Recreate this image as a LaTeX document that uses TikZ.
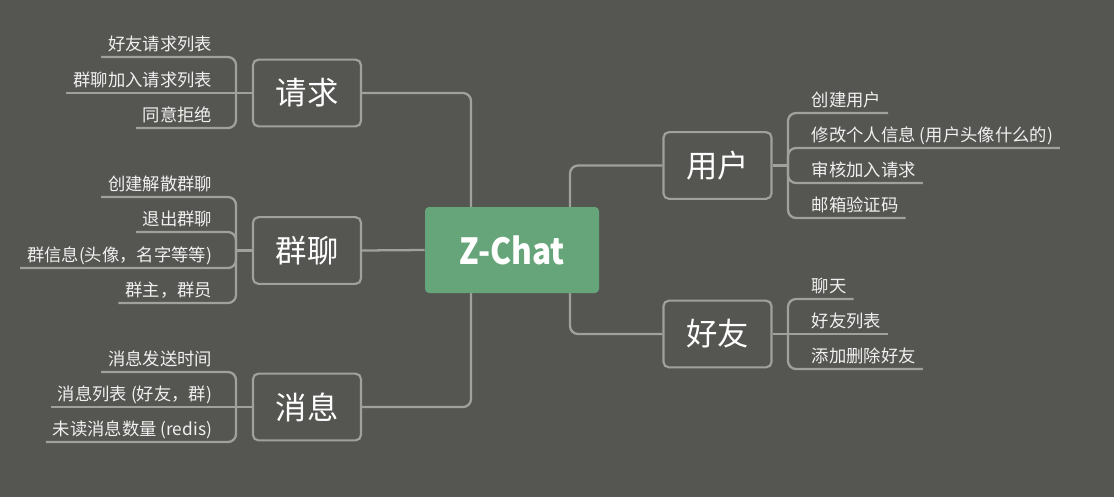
\documentclass[tikz,border=0pt]{standalone}
\usepackage{fontspec}
\setmainfont{Noto Sans CJK SC}
\usetikzlibrary{backgrounds}
\definecolor{bgc}{RGB}{85,86,82}
\definecolor{linec}{RGB}{160,160,157}
\definecolor{greenc}{RGB}{102,165,122}
\definecolor{txtc}{RGB}{240,240,240}
\tikzset{
  conn/.style={draw=linec, line width=1.7pt, rounded corners=6pt},
  topic/.style={draw=linec, line width=1.6pt, rounded corners=4pt, fill=bgc,
    minimum width=81pt, minimum height=50pt, inner sep=0pt,
    font=\fontsize{23.5pt}{27pt}\selectfont, text=white},
  root/.style={fill=greenc, rounded corners=3pt, minimum width=130.5pt,
    minimum height=64.5pt, inner sep=0pt,
    font=\fontsize{27pt}{30pt}\selectfont\bfseries, text=white},
  leaf/.style={inner xsep=5pt, inner ysep=0pt, text height=10pt, text depth=4.5pt,
    font=\fontsize{13pt}{15pt}\selectfont, text=txtc},
  leafL/.style={leaf, anchor=south east},
  leafR/.style={leaf, anchor=south west},
}
\begin{document}
\begin{tikzpicture}[x=0.75pt,y=-0.75pt]
\useasboundingbox (0,0) rectangle (1114,497);
% main nodes
\node[root] (root) at (512,250) {\scalebox{0.88}[1]{Z-Chat}};
\node[topic] (req) at (307,93) {请求};
\node[topic] (grp) at (307,250.5) {群聊};
\node[topic] (msg) at (307,407) {消息};
\node[topic] (user) at (717.5,165.5) {用户};
\node[topic] (friend) at (717.5,334) {好友};
% fork coordinates
\coordinate (lfork) at (236,0);
\coordinate (rfork) at (788,0);
\coordinate (ltrunk) at (471,250);
\coordinate (rtrunk) at (570,250);
% left leaves
\node[leafL] (r1) at (219,57) {好友请求列表};
\node[leafL] (r2) at (219,93) {群聊加入请求列表};
\node[leafL] (r3) at (219,128) {同意拒绝};
\node[leafL] (g1) at (219,197) {创建解散群聊};
\node[leafL] (g2) at (219,232) {退出群聊};
\node[leafL] (g3) at (219,268) {群信息(头像，名字等等)};
\node[leafL] (g4) at (219,303) {群主，群员};
\node[leafL] (m1) at (219,372) {消息发送时间};
\node[leafL] (m2) at (219,407) {消息列表 (好友，群)};
\node[leafL] (m3) at (219,442) {未读消息数量 (redis)};
% right leaves
\node[leafR] (u1) at (805,113) {创建用户};
\node[leafR] (u2) at (805,148) {修改个人信息 (用户头像什么的)};
\node[leafR] (u3) at (805,183) {审核加入请求};
\node[leafR] (u4) at (805,218) {邮箱验证码};
\node[leafR] (f1) at (805,299) {聊天};
\node[leafR] (f2) at (805,334) {好友列表};
\node[leafR] (f3) at (805,369) {添加删除好友};
\begin{scope}[on background layer]
\fill[bgc] (0,0) rectangle (1114,497);
% trunks
\draw[conn] (req.east) -- (req.east -| ltrunk) -- (ltrunk);
\draw[conn] (msg.east) -- (msg.east -| ltrunk) -- (ltrunk);
\draw[conn] (grp.east) -- (root.west);
\draw[conn] (user.west) -- (user.west -| rtrunk) -- (rtrunk);
\draw[conn] (friend.west) -- (friend.west -| rtrunk) -- (rtrunk);
% request branch
\draw[conn] (req.west -| lfork) -- (req.west);
\draw[conn] (r1.south west) -- (r1.south -| lfork) -- (req.west -| lfork);
\draw[conn] (r2.south west) -- (req.west);
\draw[conn] (r3.south west) -- (r3.south -| lfork) -- (req.west -| lfork);
% group branch
\draw[conn] (grp.west -| lfork) -- (grp.west);
\draw[conn] (g1.south west) -- (g1.south -| lfork) -- (grp.west -| lfork);
\draw[conn] (g2.south west) -- (g2.south -| lfork) -- (grp.west -| lfork);
\draw[conn] (g3.south west) -- (g3.south -| lfork) -- (grp.west -| lfork);
\draw[conn] (g4.south west) -- (g4.south -| lfork) -- (grp.west -| lfork);
% message branch
\draw[conn] (msg.west -| lfork) -- (msg.west);
\draw[conn] (m1.south west) -- (m1.south -| lfork) -- (msg.west -| lfork);
\draw[conn] (m2.south west) -- (msg.west);
\draw[conn] (m3.south west) -- (m3.south -| lfork) -- (msg.west -| lfork);
% user branch
\draw[conn] (user.east) -- (user.east -| rfork);
\draw[conn] (u1.south east) -- (u1.south -| rfork) -- (user.east -| rfork);
\draw[conn] (u2.south east) -- (u2.south -| rfork) -- (user.east -| rfork);
\draw[conn] (u3.south east) -- (u3.south -| rfork) -- (user.east -| rfork);
\draw[conn] (u4.south east) -- (u4.south -| rfork) -- (user.east -| rfork);
% friend branch
\draw[conn] (friend.east -| rfork) -- (friend.east);
\draw[conn] (f1.south east) -- (f1.south -| rfork) -- (friend.east -| rfork);
\draw[conn] (f2.south east) -- (friend.east);
\draw[conn] (f3.south east) -- (f3.south -| rfork) -- (friend.east -| rfork);
\end{scope}
\end{tikzpicture}
\end{document}
